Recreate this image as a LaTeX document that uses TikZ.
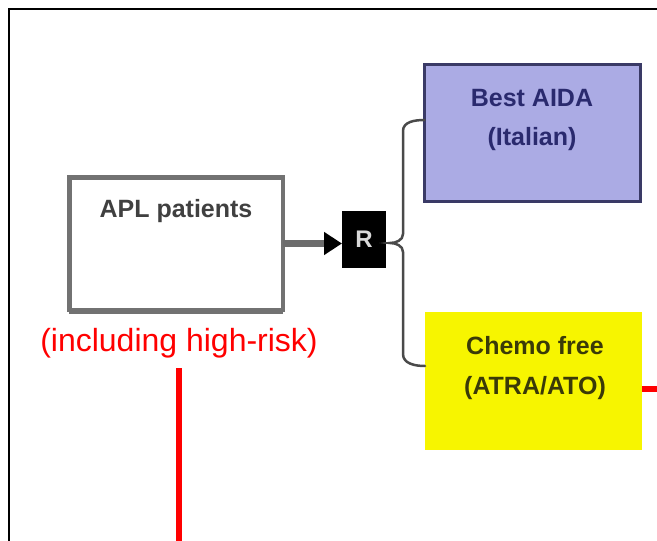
\documentclass[tikz,border=0pt]{standalone}
\usepackage{fontspec}
\setmainfont{Liberation Sans}
\usetikzlibrary{arrows.meta}
\definecolor{boxgray}{HTML}{727272}
\definecolor{aidafill}{HTML}{ABABE4}
\definecolor{aidaline}{HTML}{3A3A66}
\definecolor{aidatext}{HTML}{2A2A6E}
\definecolor{chemofill}{HTML}{F7F500}
\definecolor{chemotext}{HTML}{3A3A08}
\definecolor{shaftgray}{HTML}{6C6C6C}
\definecolor{bracegray}{HTML}{4A4A4A}
\definecolor{hlred}{HTML}{FF0000}
\tikzset{
  armbox/.style={rectangle, inner sep=0pt, outer sep=0pt},
  boxtext/.style={font=\fontsize{25}{39}\selectfont\bfseries, align=center, inner sep=0pt},
  brace/.style={draw=bracegray, line width=2.5pt, line cap=round},
  redline/.style={draw=hlred, line width=6pt},
}
\begin{document}
\begin{tikzpicture}[x=1pt,y=-1pt]
\useasboundingbox (0,0) rectangle (657,541);
% outer frame
\draw[line width=2.5pt] (9,541) -- (9,9) -- (657,9);

% boxes
\node[armbox, draw=boxgray, line width=4.5pt, fill=white,
      minimum width=213.5pt, minimum height=132.5pt] (apl) at (176,243.5) {};
\draw[boxgray, line width=4pt] ([yshift=-2pt]apl.south west) -- ([yshift=-2pt]apl.south east);
\node[armbox, draw=aidaline, fill=aidafill, line width=3pt,
      minimum width=216pt, minimum height=137pt] (aida) at (532.5,133) {};
\node[armbox, fill=chemofill, minimum width=217pt, minimum height=138pt] (chemo) at (533.5,381) {};
\node[armbox, fill=black, minimum width=44pt, minimum height=57pt,
      text=black!15, font=\fontsize{24}{24}\selectfont\bfseries] (R) at (364,239.5) {R};

% box texts
\node[boxtext, text=black!75] (apltxt) at (176,211) {APL patients};
\node[boxtext, text=aidatext] (aidatxt) at (532,119.5) {Best AIDA\\(Italian)};
\node[boxtext, text=chemotext, font=\fontsize{25}{40}\selectfont\bfseries] (chemotxt) at (535,368) {Chemo free\\(ATRA/ATO)};

% annotation
\node[text=hlred, font=\fontsize{32}{38}\selectfont, inner sep=0pt] (note) at (179,343) {(including high-risk)};

% arrow into randomisation
\draw[line width=7pt, shaftgray, -{Triangle[length=18pt,width=22pt,color=black]}]
  (apl.east) -- (apl.east -| R.west);

% randomisation brace
\coordinate (tip) at (390,243);
\draw[brace] ([yshift=13pt]aida.west) to[out=180,in=90] (403,131) -- (403,234)
  to[out=270,in=0] (tip) to[out=0,in=90] (403,252) -- (403,354)
  to[out=270,in=180] ([yshift=15pt]chemo.west);

% red highlight lines
\coordinate (rtop) at (179,368);
\coordinate (rbottom) at (179,541);
\draw[redline] (rtop) -- (rbottom);
\coordinate (rright) at (657,389);
\draw[redline] ([yshift=-8pt]chemo.east) -- (rright);
\end{tikzpicture}
\end{document}
